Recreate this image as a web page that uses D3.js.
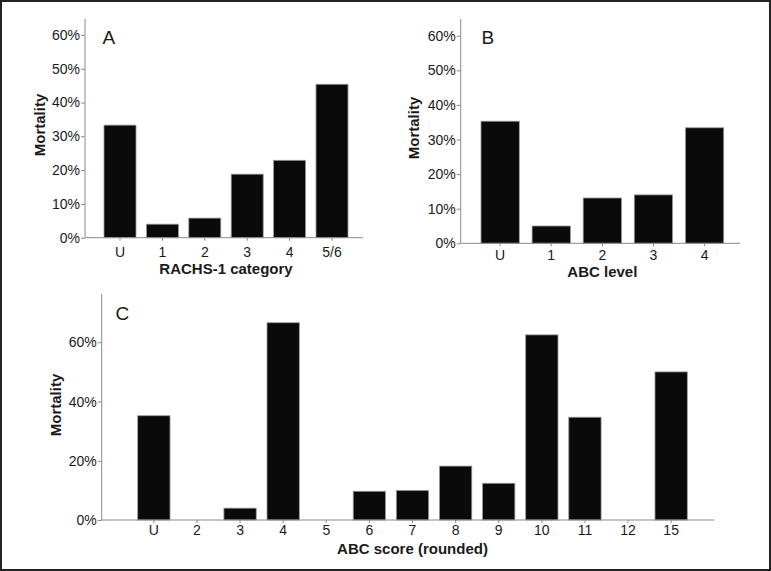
<!DOCTYPE html>
<html>
<head>
<meta charset="utf-8">
<script src="https://cdn.jsdelivr.net/npm/d3@7"></script>
<style>
  html, body { margin: 0; padding: 0; background: #fff; }
  svg { display: block; }
  text { font-family: "Liberation Sans", Arial, Helvetica, sans-serif; fill: #1a1a1a; }
</style>
</head>
<body>
<svg id="chart" width="771" height="571"></svg>
<script>
// ---- Data ----
const catsA = ["U", "1", "2", "3", "4", "5/6"];
const valsA = [0.333, 0.040, 0.058, 0.188, 0.229, 0.454];

const catsB = ["U", "1", "2", "3", "4"];
const valsB = [0.353, 0.050, 0.131, 0.140, 0.334];

const catsC = ["U", "2", "3", "4", "5", "6", "7", "8", "9", "10", "11", "12", "15"];
const valsC = [0.352, 0, 0.040, 0.666, 0, 0.097, 0.100, 0.182, 0.124, 0.625, 0.347, 0, 0.500];

const ticksAB = [0, 0.1, 0.2, 0.3, 0.4, 0.5, 0.6];
const ticksC = [0, 0.2, 0.4, 0.6];

const svg = d3.select("#chart");

// outer border
svg.append("rect")
  .attr("x", 1).attr("y", 1).attr("width", 769).attr("height", 569)
  .attr("fill", "#fff").attr("stroke", "#222").attr("stroke-width", 2);

function panel(cfg) {
  const g = svg.append("g");
  const y = d3.scaleLinear().domain([0, cfg.yMax]).range([cfg.y0, cfg.yTop]);
  const x = d3.scaleBand().domain(cfg.cats).range(cfg.bandRange)
    .paddingInner(cfg.pad).paddingOuter(cfg.pad / 2);

  // bars
  g.selectAll("rect.bar").data(cfg.cats.map((c, i) => ({c, v: cfg.vals[i]})).filter(d => d.v > 0))
    .enter().append("rect").attr("class", "bar")
    .attr("x", d => x(d.c))
    .attr("y", d => y(d.v))
    .attr("width", x.bandwidth())
    .attr("height", d => y(0) - y(d.v))
    .attr("fill", "#0a0a0a")
    .attr("stroke", "#9a9a9a")
    .attr("stroke-width", 0.8);

  // y axis
  const ya = g.append("g").attr("transform", `translate(${cfg.x0},0)`)
    .call(d3.axisLeft(y).tickValues(cfg.ticks).tickFormat(d3.format(".0%")).tickSize(4).tickPadding(1).tickSizeOuter(0));
  ya.select(".domain").remove();
  ya.append("line").attr("x1", 0).attr("x2", 0).attr("y1", cfg.yTop).attr("y2", cfg.y0)
    .attr("stroke", "#8a8a8a").attr("stroke-width", 1);
  ya.selectAll(".tick line").attr("stroke", "#8a8a8a");
  ya.selectAll(".tick text").attr("font-size", 14).attr("fill", "#1a1a1a")
    .style("font-family", "'Liberation Sans', Arial, sans-serif");

  // x axis
  const xa = g.append("g").attr("transform", `translate(0,${cfg.y0})`)
    .call(d3.axisBottom(x).tickSize(3).tickPadding(cfg.xPad).tickSizeOuter(0));
  xa.select(".domain").remove();
  xa.append("line").attr("x1", cfg.x0).attr("x2", cfg.xEnd).attr("y1", 0).attr("y2", 0)
    .attr("stroke", "#8a8a8a").attr("stroke-width", 1);
  xa.selectAll(".tick line").attr("stroke", "#8a8a8a");
  xa.selectAll(".tick text").attr("font-size", 14).attr("fill", "#1a1a1a")
    .style("font-family", "'Liberation Sans', Arial, sans-serif");

  // panel letter
  g.append("text").attr("x", cfg.letterX).attr("y", cfg.letterY)
    .attr("font-size", 19).text(cfg.letter);

  // x title
  const bx0 = cfg.bandRange[0], bx1 = cfg.bandRange[1];
  g.append("text").attr("x", (bx0 + bx1) / 2).attr("y", cfg.xTitleY)
    .attr("text-anchor", "middle").attr("font-size", 15).attr("font-weight", "bold")
    .text(cfg.xTitle);

  // y title
  g.append("text")
    .attr("transform", `translate(${cfg.yTitleX},${cfg.yTitleY}) rotate(-90)`)
    .attr("text-anchor", "middle").attr("font-size", 15).attr("font-weight", "bold")
    .text("Mortality");
}

panel({
  cats: catsA, vals: valsA, ticks: ticksAB, letter: "A", xTitle: "RACHS-1 category",
  x0: 85, xEnd: 363, y0: 237.7, yTop: 19, yMax: 0.647,
  bandRange: [98.8, 353.2], pad: 0.245, xPad: 6,
  letterX: 102.5, letterY: 43.5, xTitleY: 274, yTitleX: 44.5, yTitleY: 125
});

panel({
  cats: catsB, vals: valsB, ticks: ticksAB, letter: "B", xTitle: "ABC level",
  x0: 460.7, xEnd: 740, y0: 243.3, yTop: 19, yMax: 0.6485,
  bandRange: [474.6, 730.1], pad: 0.25, xPad: 4,
  letterX: 481.5, letterY: 43.5, xTitleY: 276.5, yTitleX: 419, yTitleY: 128
});

panel({
  cats: catsC, vals: valsC, ticks: ticksC, letter: "C", xTitle: "ABC score (rounded)",
  x0: 101.7, xEnd: 714.3, y0: 520, yTop: 294, yMax: 0.763,
  bandRange: [132.3, 692.7], pad: 0.25, xPad: 2,
  letterX: 115.5, letterY: 319.5, xTitleY: 554, yTitleX: 60.5, yTitleY: 405
});
</script>
</body>
</html>
